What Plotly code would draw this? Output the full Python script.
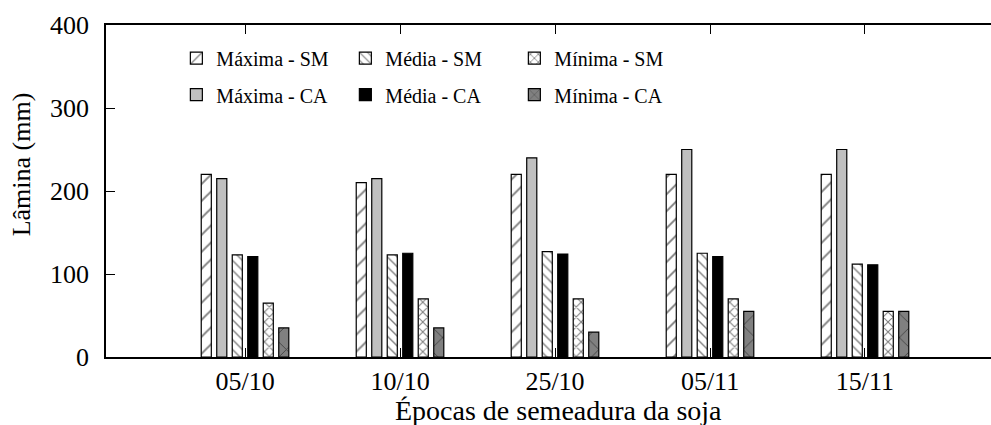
import plotly.graph_objects as go

# Sowing dates and irrigation depth (mm) for each scenario
datas = ["05/10", "10/10", "25/10", "05/11", "15/11"]
maxima_sm = [220, 210, 220, 220, 220]
maxima_ca = [215, 215, 240, 250, 250]
media_sm = [123, 123, 127, 125, 112]
media_ca = [121, 125, 124, 121, 111]
minima_sm = [65, 70, 70, 70, 55]
minima_ca = [35, 35, 30, 55, 55]

FONT = "Liberation Serif"
LINE = dict(color="black", width=1.2)

# name, values, fill colour, pattern, legend, rank
series = [
    ("Máxima - SM", maxima_sm, "white", dict(shape="/", size=12, solidity=0.16, fgcolor="black", bgcolor="white"), "legend", 1),
    ("Máxima - CA", maxima_ca, "#c0c0c0", None, "legend2", 4),
    ("Média - SM", media_sm, "white", dict(shape="\\", size=7, solidity=0.2, fgcolor="black", bgcolor="white"), "legend", 2),
    ("Média - CA", media_ca, "black", None, "legend2", 5),
    ("Mínima - SM", minima_sm, "white", dict(shape="x", size=7, solidity=0.28, fgcolor="black", bgcolor="white"), "legend", 3),
    ("Mínima - CA", minima_ca, "#808080", dict(shape="x", size=17, solidity=0.1, fgcolor="black", bgcolor="#808080"), "legend2", 6),
]

fig = go.Figure()
for name, vals, color, pat, leg, rank in series:
    marker = dict(color=color, line=LINE)
    if pat:
        marker["pattern"] = pat
    fig.add_trace(go.Bar(
        x=datas, y=vals, name=name, marker=marker,
        legend=leg, legendrank=rank,
    ))

legend_common = dict(
    orientation="h", xanchor="left", yanchor="middle",
    font=dict(family=FONT, size=20, color="black"),
    bgcolor="rgba(0,0,0,0)", entrywidth=124, itemwidth=30,
    tracegroupgap=0,
)

fig.update_layout(
    width=991, height=425,
    margin=dict(l=106, r=0, t=25, b=68),
    paper_bgcolor="white", plot_bgcolor="white",
    barmode="group", bargap=0.4, bargroupgap=0.35,
    font=dict(family=FONT, color="black"),
    legend=dict(x=0.0795, y=0.90, **legend_common),
    legend2=dict(x=0.0795, y=0.79, **legend_common),
    xaxis=dict(
        type="category", range=[-0.897, 4.813],
        showline=True, linecolor="black", linewidth=1.5, mirror="ticks",
        ticks="inside", ticklen=9, tickwidth=1, tickcolor="black",
        tickfont=dict(family=FONT, size=26),
        showgrid=False, zeroline=False,
    ),
    yaxis=dict(
        range=[0, 400], tickvals=[0, 100, 200, 300, 400],
        showline=True, linecolor="black", linewidth=1.5, mirror=False,
        ticks="inside", ticklen=9, tickwidth=1, tickcolor="black",
        ticklabelstandoff=10,
        tickfont=dict(family=FONT, size=26),
        showgrid=False, zeroline=False,
    ),
    annotations=[
        dict(text="Épocas de semeadura da soja", xref="paper", yref="paper",
             x=0.511, y=-0.16, xanchor="center", yanchor="middle",
             showarrow=False, font=dict(family=FONT, size=28)),
        dict(text="Lâmina (mm)", xref="paper", yref="paper", textangle=-90,
             x=-0.095, y=0.58, xanchor="center", yanchor="middle",
             showarrow=False, font=dict(family=FONT, size=26)),
    ],
)

fig.write_html("out.html")
